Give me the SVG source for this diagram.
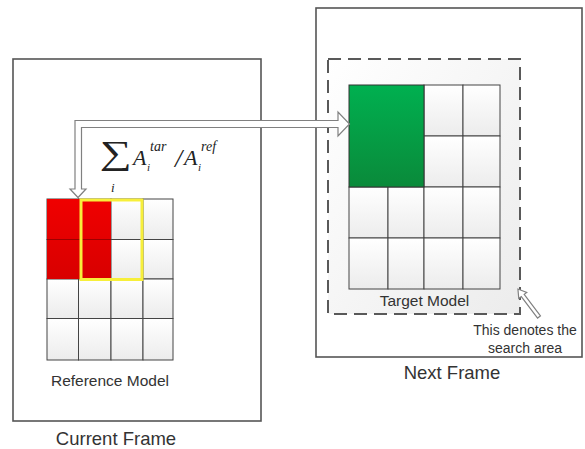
<svg xmlns="http://www.w3.org/2000/svg" width="585" height="449" viewBox="0 0 585 449">
<defs>
<linearGradient id="cell" x1="0" y1="0" x2="0" y2="1"><stop offset="0" stop-color="#ffffff"/><stop offset="1" stop-color="#ececec"/></linearGradient>
<linearGradient id="red" x1="0" y1="0" x2="0" y2="1"><stop offset="0" stop-color="#f00000"/><stop offset="1" stop-color="#d80000"/></linearGradient>
<linearGradient id="green" x1="0" y1="0" x2="0" y2="1"><stop offset="0" stop-color="#00b050"/><stop offset="1" stop-color="#0a8a3a"/></linearGradient>
<linearGradient id="area" x1="0" y1="0" x2="1" y2="1"><stop offset="0" stop-color="#ffffff"/><stop offset="1" stop-color="#ececec"/></linearGradient>
</defs>
<style>
.frame{fill:#fff;stroke:#555;stroke-width:1.6}
.cell{fill:url(#cell);stroke:#444;stroke-width:1}
.lbl{font-family:"Liberation Sans",Arial,sans-serif;fill:#333;text-anchor:middle}
.m{font-family:"Liberation Serif","Times New Roman",serif;font-style:italic;fill:#222}
.arrow{fill:#fff;stroke:#808080;stroke-width:1.2;stroke-linejoin:miter}
</style>
<g id="current-frame">
<rect class="frame" x="13" y="59" width="248" height="362"/>
<text class="lbl" x="116" y="445" font-size="18.5">Current Frame</text>
</g>
<g id="next-frame">
<rect class="frame" x="316" y="8" width="266" height="349"/>
<text class="lbl" x="452" y="379" font-size="18.5">Next Frame</text>
</g>
<g id="search-area">
<rect x="328" y="59" width="192" height="255" fill="url(#area)" stroke="#595959" stroke-width="2" stroke-dasharray="13 7"/>
</g>
<g id="reference-model">
<g>
<rect class="cell" x="47" y="199" width="31.5" height="40.5"/>
<rect class="cell" x="78.5" y="199" width="32.5" height="40.5"/>
<rect class="cell" x="111" y="199" width="32" height="40.5"/>
<rect class="cell" x="143" y="199" width="30" height="40.5"/>
<rect class="cell" x="47" y="239.5" width="31.5" height="39.5"/>
<rect class="cell" x="78.5" y="239.5" width="32.5" height="39.5"/>
<rect class="cell" x="111" y="239.5" width="32" height="39.5"/>
<rect class="cell" x="143" y="239.5" width="30" height="39.5"/>
<rect class="cell" x="47" y="279" width="31.5" height="39.5"/>
<rect class="cell" x="78.5" y="279" width="32.5" height="39.5"/>
<rect class="cell" x="111" y="279" width="32" height="39.5"/>
<rect class="cell" x="143" y="279" width="30" height="39.5"/>
<rect class="cell" x="47" y="318.5" width="31.5" height="41.5"/>
<rect class="cell" x="78.5" y="318.5" width="32.5" height="41.5"/>
<rect class="cell" x="111" y="318.5" width="32" height="41.5"/>
<rect class="cell" x="143" y="318.5" width="30" height="41.5"/>
</g>
<rect x="47" y="199" width="64" height="80" fill="url(#red)"/>
<line x1="47" y1="239.5" x2="111" y2="239.5" stroke="#8a0000" stroke-width="0.8"/>
<rect x="81" y="200" width="61" height="79.5" fill="none" stroke="#f7ef3a" stroke-width="3"/>
<text class="lbl" x="110" y="386" font-size="15.5">Reference Model</text>
</g>
<g id="target-model">
<rect class="cell" x="424" y="85" width="39" height="51"/>
<rect class="cell" x="463" y="85" width="37" height="51"/>
<rect class="cell" x="424" y="136" width="39" height="51"/>
<rect class="cell" x="463" y="136" width="37" height="51"/>
<rect class="cell" x="349" y="187" width="39" height="51"/>
<rect class="cell" x="388" y="187" width="36" height="51"/>
<rect class="cell" x="424" y="187" width="39" height="51"/>
<rect class="cell" x="463" y="187" width="37" height="51"/>
<rect class="cell" x="349" y="238" width="39" height="51"/>
<rect class="cell" x="388" y="238" width="36" height="51"/>
<rect class="cell" x="424" y="238" width="39" height="51"/>
<rect class="cell" x="463" y="238" width="37" height="51"/>
<rect x="349" y="85" width="75" height="102" fill="url(#green)" stroke="#333" stroke-width="1"/>
<text class="lbl" x="424.5" y="306" font-size="15.5">Target Model</text>
</g>
<g id="formula">
<text class="m" transform="translate(100,164) scale(1.4,1.05)" x="0" y="0" font-size="32" font-style="normal">∑</text>
<text class="m" x="111" y="192" font-size="13">i</text>
<text class="m" x="133" y="165" font-size="22">A</text>
<text class="m" x="150" y="151" font-size="14">tar</text>
<text class="m" x="147" y="171" font-size="11">i</text>
<text class="m" x="175" y="167" font-size="26" font-style="normal">/</text>
<text class="m" x="184" y="165" font-size="22">A</text>
<text class="m" x="201" y="151" font-size="14">ref</text>
<text class="m" x="198" y="171" font-size="11">i</text>
</g>
<g id="search-note">
<text class="lbl" x="525" y="335" font-size="14">This denotes the</text>
<text class="lbl" x="525" y="353" font-size="14">search area</text>
</g>
<g id="connectors">
<path class="arrow" d="M75,120.5 H338 V112 L349.5,124 L338,136 V127.5 H81.5 V189 H86 L78,197.5 L70,189 H75 Z"/>
<path class="arrow" transform="translate(539,317) rotate(-127)" d="M0,-1.8 H27 V-5 L35,0 L27,5 V1.8 H0 Z"/>
</g>
</svg>
